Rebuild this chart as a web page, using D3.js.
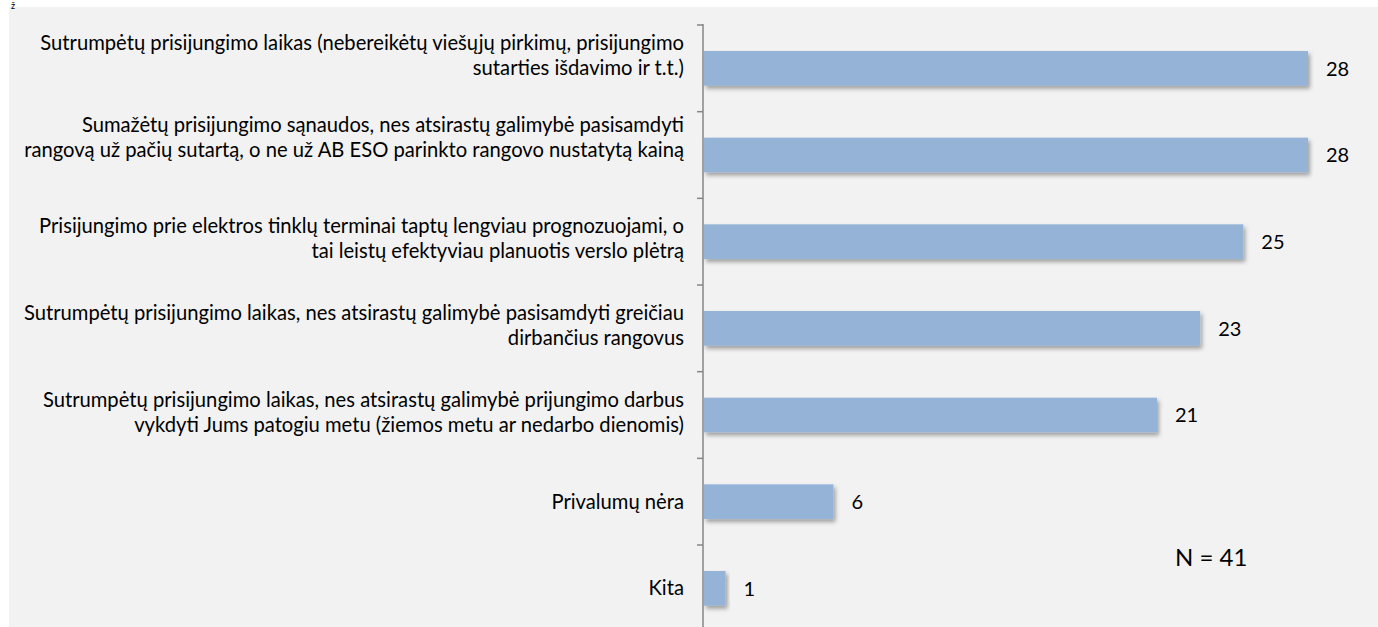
<!DOCTYPE html>
<html lang="lt">
<head>
<meta charset="UTF-8">
<title>Privalumai</title>
<script src="https://d3js.org/d3.v7.min.js"></script>
<style>
    body { margin: 0; background: #fff; }
    svg { display: block; font-family: Lato, "Open Sans", sans-serif; }
</style>
</head>
<body>
<div id="chart"></div>
<script>
    // categories (each one split in display lines) and their counts
    const categories = [
        ["Sutrumpėtų prisijungimo laikas (nebereikėtų viešųjų pirkimų, prisijungimo", "sutarties išdavimo ir t.t.)"],
        ["Sumažėtų prisijungimo sąnaudos, nes atsirastų galimybė pasisamdyti", "rangovą už pačių sutartą, o ne už AB ESO parinkto rangovo nustatytą kainą"],
        ["Prisijungimo prie elektros tinklų terminai taptų lengviau prognozuojami, o", "tai leistų efektyviau planuotis verslo plėtrą"],
        ["Sutrumpėtų prisijungimo laikas, nes atsirastų galimybė pasisamdyti greičiau", "dirbančius rangovus"],
        ["Sutrumpėtų prisijungimo laikas, nes atsirastų galimybė prijungimo darbus", "vykdyti Jums patogiu metu (žiemos metu ar nedarbo dienomis)"],
        ["Privalumų nėra"],
        ["Kita"]
    ];
    const values = [28, 28, 25, 23, 21, 6, 1];
    const sampleNote = "N = 41";

    const width = 1378, height = 627;
    const axisX = 704;

    const svg = d3.select("#chart").append("svg")
        .attr("width", width)
        .attr("height", height);

    const defs = svg.append("defs");
    const shadow = defs.append("filter").attr("id", "shadow")
        .attr("x", "-10%").attr("y", "-30%").attr("width", "130%").attr("height", "180%");
    shadow.append("feDropShadow")
        .attr("dx", 2).attr("dy", 3).attr("stdDeviation", 2)
        .attr("flood-color", "#000").attr("flood-opacity", 0.35);

    // plot background
    svg.append("rect")
        .attr("x", 9).attr("y", 7)
        .attr("width", width - 9).attr("height", height - 7)
        .attr("fill", "#f2f2f2");

    // small text fragment at the very top
    svg.append("text").attr("x", 11).attr("y", 9)
        .attr("font-size", 9).attr("fill", "#000").text("ž");

    const y = d3.scaleBand()
        .domain(d3.range(categories.length))
        .range([25, 25 + 86.67 * categories.length])
        .paddingInner(0.6)
        .paddingOuter(0.3);

    const x = d3.scaleLinear()
        .domain([0, 28])
        .range([axisX, 1308]);

    // bars
    svg.append("g")
        .selectAll("rect")
        .data(values)
        .join("rect")
        .attr("x", x(0))
        .attr("y", (d, i) => y(i))
        .attr("width", d => x(d) - x(0))
        .attr("height", y.bandwidth())
        .attr("fill", "#95b3d7")
        .attr("filter", "url(#shadow)");

    // value labels
    svg.append("g")
        .selectAll("text")
        .data(values)
        .join("text")
        .attr("x", d => x(d) + 18)
        .attr("y", (d, i) => y(i) + y.bandwidth() / 2)
        .attr("dy", "0.36em")
        .attr("font-size", 20)
        .attr("fill", "#000")
        .text(d => d);

    // category axis
    const step = y.step();
    const ticks = d3.range(categories.length + 1).map(i => 25 + i * step);
    const axis = svg.append("g").attr("stroke", "#868686").attr("stroke-width", 1.5);
    axis.append("line")
        .attr("x1", axisX - 1).attr("x2", axisX - 1)
        .attr("y1", 24).attr("y2", height);
    axis.selectAll(".tick")
        .data(ticks)
        .join("line")
        .attr("class", "tick")
        .attr("x1", axisX - 7).attr("x2", axisX - 1)
        .attr("y1", d => d).attr("y2", d => d);

    // category labels
    const labelShift = [-13, -18, -3, -3, -3, 0, 0];
    const lineH = 25;
    const labels = svg.append("g")
        .attr("font-size", 20.2)
        .attr("fill", "#000")
        .attr("text-anchor", "end");
    categories.forEach((lines, i) => {
        const cy = y(i) + y.bandwidth() / 2 + labelShift[i];
        const t = labels.append("text")
            .attr("x", 684)
            .attr("y", cy - (lines.length - 1) * lineH / 2);
        lines.forEach((ln, j) => {
            t.append("tspan")
                .attr("x", 684)
                .attr("dy", j === 0 ? "0.35em" : lineH)
                .text(ln);
        });
    });

    svg.append("text")
        .attr("x", 1175).attr("y", 558)
        .attr("dy", "0.35em")
        .attr("font-size", 24)
        .attr("fill", "#000")
        .text(sampleNote);
</script>
</body>
</html>
